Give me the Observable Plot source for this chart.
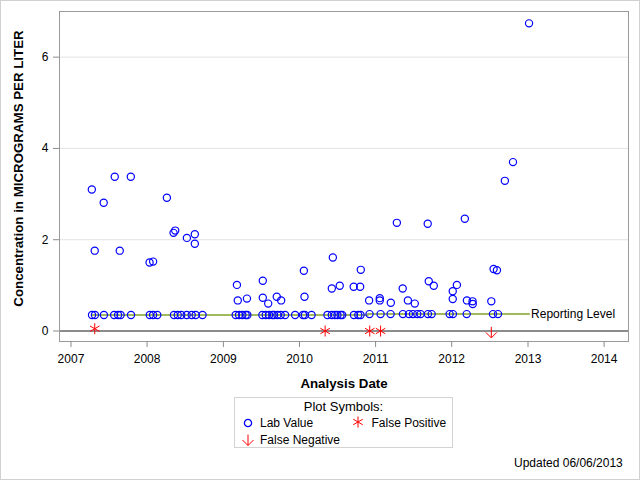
<!DOCTYPE html>
<html>
<head>
<meta charset="utf-8">
<script src="https://cdn.jsdelivr.net/npm/d3@7"></script>
<script src="https://cdn.jsdelivr.net/npm/@observablehq/plot@0.6"></script>
<style>
  body { margin: 0; background: #fff; font-family: "Liberation Sans", Arial, sans-serif; }
  #wrap { position: relative; width: 640px; height: 480px; overflow: hidden; background: #fff; }
  #border { position: absolute; left: 0; top: 0; width: 640px; height: 480px; box-sizing: border-box; border: 1px solid #d0d0d0; pointer-events: none; }
  #chart { position: absolute; left: 0; top: 0; }
  #legend { position: absolute; left: 234px; top: 397px; width: 219px; height: 51px; box-sizing: border-box; border: 1px solid #d3d3d3; font-size: 12px; color: #000; }
  #legend .title { position: absolute; left: 0; width: 100%; top: 1px; text-align: center; font-size: 13px; line-height: 15px; }
  #legend .item { position: absolute; line-height: 14px; white-space: nowrap; }
  #legend svg { position: absolute; overflow: visible; }
  #updated { position: absolute; left: 514px; top: 455px; font-size: 12px; line-height: 16px; color: #000; }
</style>
</head>
<body>
<div id="wrap">
  <div id="chart"></div>
  <div id="legend"></div>
  <div id="updated"></div>
  <div id="border"></div>
</div>
<script>
// ---------- data ----------
const labDates = [
  // detections above the reporting level
  "2007-04-11","2007-04-25","2007-06-07","2007-07-30","2007-08-23","2007-10-15",
  "2008-01-13","2008-01-30","2008-04-05","2008-05-07","2008-05-15","2008-07-10","2008-08-17","2008-08-17",
  "2009-03-07","2009-03-11","2009-04-24","2009-07-09","2009-07-09","2009-08-04","2009-09-14","2009-10-05",
  "2010-01-22","2010-01-25","2010-06-05","2010-06-10","2010-07-13","2010-09-18","2010-10-19","2010-10-22","2010-12-01",
  "2011-01-21","2011-01-21","2011-03-15","2011-04-13","2011-05-11","2011-06-05","2011-07-08","2011-09-08","2011-09-13","2011-10-07",
  "2012-01-06","2012-01-06","2012-01-26","2012-03-04","2012-03-14","2012-04-10","2012-04-11",
  "2012-07-09","2012-07-20","2012-08-05","2012-09-12","2012-10-21","2013-01-06",
  // values reported at the reporting level
  "2007-04-12","2007-04-26","2007-06-08","2007-07-27","2007-08-15","2007-08-27","2007-10-16",
  "2008-01-14","2008-01-30","2008-02-19","2008-05-09","2008-05-27","2008-06-13","2008-07-09","2008-08-02","2008-08-21","2008-09-23",
  "2009-03-01","2009-03-17","2009-04-02","2009-04-18","2009-04-26","2009-07-07","2009-07-23","2009-08-08","2009-08-24",
  "2009-09-01","2009-09-17","2009-10-03","2009-10-24","2009-12-11",
  "2010-01-18","2010-01-27","2010-02-28","2010-05-15","2010-06-05","2010-06-20","2010-07-02","2010-07-17","2010-07-25",
  "2010-09-19","2010-10-10","2010-10-21",
  "2010-12-03","2011-01-25","2011-03-14","2011-05-12","2011-06-10","2011-06-29","2011-07-20","2011-08-05","2011-09-09",
  "2011-09-27","2011-12-22","2012-01-07","2012-03-13","2012-07-17","2012-08-10"
];
const labValues = [
  3.10, 1.76, 2.81, 3.38, 1.76, 3.38,
  1.50, 1.52, 2.92, 2.15, 2.20, 2.04, 2.12, 1.91,
  1.01, 0.67, 0.71, 1.10, 0.73, 0.60, 0.75, 0.67,
  1.32, 0.75, 0.93, 1.61, 0.99, 0.97, 0.97, 1.34, 0.67,
  0.72, 0.67, 0.62, 2.37, 0.93, 0.67, 0.60, 2.35, 1.09, 0.99,
  0.87, 0.70, 1.01, 2.46, 0.67, 0.65, 0.59,
  0.65, 1.36, 1.33, 3.29, 3.70, 6.74,
  0.35, 0.35, 0.35, 0.35, 0.35, 0.35, 0.35,
  0.35, 0.35, 0.35, 0.35, 0.35, 0.35, 0.35, 0.35, 0.35, 0.35,
  0.35, 0.35, 0.35, 0.35, 0.35, 0.35, 0.35, 0.35, 0.35,
  0.35, 0.35, 0.35, 0.35, 0.35,
  0.35, 0.35, 0.35, 0.35, 0.35, 0.35, 0.35, 0.35, 0.35,
  0.35, 0.35, 0.35,
  0.37, 0.37, 0.37, 0.37, 0.37, 0.37, 0.37, 0.37, 0.37,
  0.37, 0.37, 0.37, 0.37, 0.37, 0.37
];
const falsePosDates = ["2007-04-25", "2010-05-04", "2010-12-04", "2011-01-25"];
const falsePosValues = [0.05, 0, 0, 0];
const falseNegDates = ["2012-07-09"];
const falseNegValues = [-0.03];
const repLevelDates = ["2007-04-11", "2010-11-25", "2010-11-25", "2013-01-06"];
const repLevelValues = [0.35, 0.35, 0.37, 0.37];
const repLevelLabel = "Reporting Level";
const yearTicks = ["2007","2008","2009","2010","2011","2012","2013","2014"];
const yTicks = [0, 2, 4, 6];
const xTitle = "Analysis Date";
const yTitle = "Concentration in MICROGRAMS PER LITER";
const legendTitle = "Plot Symbols:";
const legendLabels = ["Lab Value", "False Positive", "False Negative"];
const updatedText = "Updated 06/06/2013";

// ---------- build tables ----------
const parse = d3.utcParse("%Y-%m-%d");
const lab = labDates.map((d, i) => ({date: parse(d), value: labValues[i]}));
const fp = falsePosDates.map((d, i) => ({date: parse(d), value: falsePosValues[i]}));
const fn = falseNegDates.map((d, i) => ({date: parse(d), value: falseNegValues[i]}));
const rep = repLevelDates.map((d, i) => ({date: parse(d), value: repLevelValues[i]}));
const yearDates = yearTicks.map(y => d3.utcParse("%Y")(y));

const arrowDown = {
  draw(context, size) {
    const s = Math.sqrt(size / Math.PI);
    context.moveTo(0, -s);
    context.lineTo(0, s);
    context.moveTo(-s, 0);
    context.lineTo(0, s);
    context.lineTo(s, 0);
  }
};

const fontFamily = "'Liberation Sans', Arial, sans-serif";

const plot = Plot.plot({
  width: 640,
  height: 395,
  marginLeft: 59,
  marginRight: 12,
  marginTop: 11,
  marginBottom: 54,
  style: {fontFamily, fontSize: "12px", color: "#000", background: "transparent", overflow: "visible"},
  x: {type: "utc", domain: [parse("2006-11-07"), parse("2014-04-28")]},
  y: {domain: [-0.23, 7.0]},
  marks: [
    Plot.gridY(yTicks.filter(d => d !== 0), {stroke: "#e3e3e3", strokeOpacity: 1}),
    Plot.ruleY([0], {stroke: "#8c8c8c", strokeWidth: 2}),
    Plot.line(rep, {x: "date", y: "value", stroke: "#a2ba5e", strokeWidth: 2}),
    Plot.dot(lab, {x: "date", y: "value", r: 3.6, stroke: "#0000ff", strokeWidth: 1.2, fill: "none"}),
    Plot.dot(fp, {x: "date", y: "value", symbol: "asterisk", r: 5.2, stroke: "#ff0000", strokeWidth: 1, fill: "none"}),
    Plot.dot(fn, {x: "date", y: "value", symbol: arrowDown, r: 5.5, stroke: "#ff0000", strokeWidth: 1, fill: "none"}),
    Plot.text([repLevelLabel], {x: () => rep[rep.length - 1].date, y: () => rep[rep.length - 1].value, dx: 2, textAnchor: "start", lineAnchor: "middle", fontSize: 12, fill: "#000"}),
    Plot.frame({stroke: "#9a9a9a"}),
    Plot.axisX({ticks: yearDates, tickFormat: d3.utcFormat("%Y"), tickSize: 6, tickPadding: 7, stroke: "#8c8c8c", fill: "#000", label: null, fontSize: 12}),
    Plot.axisY({ticks: yTicks, tickSize: 6, tickPadding: 5, stroke: "#8c8c8c", fill: "#000", label: null, fontSize: 12}),
    Plot.text([xTitle], {frameAnchor: "bottom", dy: 42, textAnchor: "middle", lineAnchor: "middle", fontWeight: "bold", fontSize: 13.3, fill: "#000"}),
    Plot.text([yTitle], {frameAnchor: "left", dx: -41, dy: -8, rotate: -90, textAnchor: "middle", lineAnchor: "middle", fontWeight: "bold", fontSize: 13.3, fill: "#000"})
  ]
});
document.getElementById("chart").appendChild(plot);

// ---------- legend ----------
const legend = document.getElementById("legend");
legend.innerHTML = `
  <div class="title">${legendTitle}</div>
  <svg style="left:12.7px;top:25px" width="1" height="1"><circle r="3.6" fill="none" stroke="#0000ff" stroke-width="1.3"/></svg>
  <div class="item" style="left:25px;top:18px">${legendLabels[0]}</div>
  <svg style="left:122.7px;top:24px" width="1" height="1"><path d="${d3.symbol(d3.symbolAsterisk, 85)()}" fill="none" stroke="#ff0000" stroke-width="1"/></svg>
  <div class="item" style="left:136.5px;top:18px">${legendLabels[1]}</div>
  <svg style="left:12.7px;top:42px" width="1" height="1"><path d="M0,-5.5L0,5.5M-5.5,0L0,5.5L5.5,0" fill="none" stroke="#ff0000" stroke-width="1"/></svg>
  <div class="item" style="left:25px;top:35px">${legendLabels[2]}</div>
`;
document.getElementById("updated").textContent = updatedText;
</script>
</body>
</html>
